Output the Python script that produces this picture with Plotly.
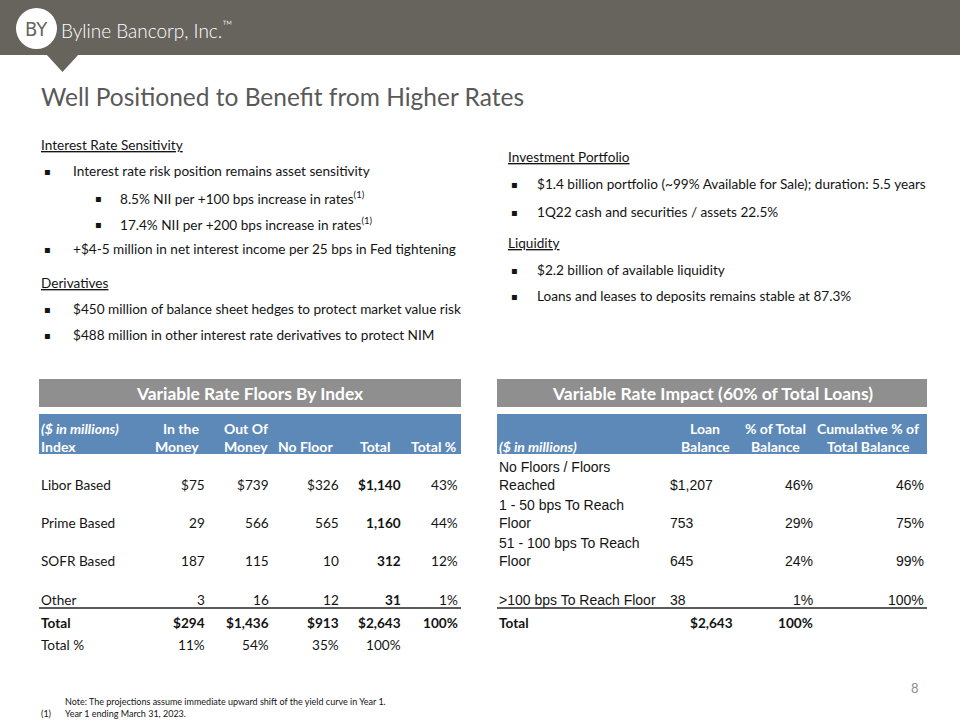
import plotly.graph_objects as go

# ---------------- data ----------------
company = "Byline Bancorp, Inc."
slide_title = "Well Positioned to Benefit from Higher Rates"
page_number = "8"

left_sections = [
    ("Interest Rate Sensitivity", [
        (0, "Interest rate risk position remains asset sensitivity"),
        (1, "8.5% NII per +100 bps increase in rates<sup>(1)</sup>"),
        (1, "17.4% NII per +200 bps increase in rates<sup>(1)</sup>"),
        (0, "+$4-5 million in net interest income per 25 bps in Fed tightening"),
    ]),
    ("Derivatives", [
        (0, "$450 million of balance sheet hedges to protect market value risk"),
        (0, "$488 million in other interest rate derivatives to protect NIM"),
    ]),
]
right_sections = [
    ("Investment Portfolio", [
        (0, "$1.4 billion portfolio (~99% Available for Sale); duration: 5.5 years"),
        (0, "1Q22 cash and securities / assets 22.5%"),
    ]),
    ("Liquidity", [
        (0, "$2.2 billion of available liquidity"),
        (0, "Loans and leases to deposits remains stable at 87.3%"),
    ]),
]

# Table 1: Variable Rate Floors By Index
floors_title = "Variable Rate Floors By Index"
floors_headers = ["In the<br>Money", "Out Of<br>Money", "No Floor", "Total", "Total %"]
floor_index = ["Libor Based", "Prime Based", "SOFR Based", "Other"]
in_the_money = [75, 29, 187, 3]
out_of_money = [739, 566, 115, 16]
no_floor = [326, 565, 10, 12]
floor_total = [1140, 1160, 312, 31]
floor_total_pct = [43, 44, 12, 1]
floor_sum = [294, 1436, 913, 2643]
floor_sum_pct = [11, 54, 35, 100]
floor_sum_total_pct = 100

# Table 2: Variable Rate Impact
impact_title = "Variable Rate Impact (60% of Total Loans)"
impact_headers = ["Loan<br>Balance", "% of Total<br>Balance", "Cumulative % of<br>Total Balance"]
impact_labels = ["No Floors / Floors<br>Reached", "1 - 50 bps To Reach<br>Floor",
                 "51 - 100 bps To Reach<br>Floor", ">100 bps To Reach Floor"]
loan_balance = [1207, 753, 645, 38]
pct_of_total = [46, 29, 24, 1]
cum_pct = [46, 75, 99, 100]
impact_total_balance = 2643
impact_total_pct = 100

footnote_note = "Note: The projections assume immediate upward shift of the yield curve in Year 1."
footnote_1 = "Year 1 ending March 31, 2023."

# ---------------- styling ----------------
CAL = "Lato, 'Open Sans', sans-serif"
ARIAL = "'Liberation Sans', Arial, sans-serif"
TXT = "#141414"
BAND = "#67645e"
GRAYHDR = "#8f8f8f"
BLUE = "#5d89b9"
BODY = 13.6
HDR = 14

fig = go.Figure()
shapes = []
ann = []


def txt(x, y, s, size=BODY, color=TXT, xa="left", family=CAL, ya="middle", weight=None):
    f = dict(size=size, color=color, family=family)
    if weight is not None:
        f["weight"] = weight
    ann.append(dict(x=x, y=y, text=s, xref="x", yref="y", showarrow=False,
                    xanchor=xa, yanchor=ya, font=f))


def rect(x0, y0, x1, y1, color):
    shapes.append(dict(type="rect", xref="x", yref="y", x0=x0, y0=y0, x1=x1, y1=y1,
                       fillcolor=color, line=dict(width=0), layer="below"))


def hline(x0, x1, y, color="#262626", w=1.3):
    shapes.append(dict(type="line", xref="x", yref="y", x0=x0, x1=x1, y0=y, y1=y,
                       line=dict(color=color, width=w)))


# header band + pointer
rect(0, 0, 960, 55, BAND)
shapes.append(dict(type="path", xref="x", yref="y", path="M 46 54 L 79 54 L 62.5 72 Z",
                   fillcolor=BAND, line=dict(width=0)))
shapes.append(dict(type="circle", xref="x", yref="y", x0=16, y0=8, x1=57, y1=49,
                   fillcolor="white", line=dict(width=0)))
txt(36.5, 29, "BY", size=20, color=BAND, xa="center",
    family="'DejaVu Sans Condensed', sans-serif", weight=400)
txt(59, 29, company + "<sup>™</sup>", size=19, color="white", family=CAL, weight=300)

# title
txt(39, 96, slide_title, size=24.5, color="#595959", weight=400)


def section_block(sections, x_head, x_b0, x_t0, x_b1, x_t1, ys):
    i = 0
    for head, items in sections:
        txt(x_head, ys[i], "<u>" + head + "</u>")
        i += 1
        for lvl, s in items:
            xb, xt = (x_b0, x_t0) if lvl == 0 else (x_b1, x_t1)
            txt(xb, ys[i], "▪", size=10, family="'DejaVu Sans', sans-serif")
            txt(xt, ys[i], s)
            i += 1


section_block(left_sections, 39, 42, 71, 93, 118, [145, 171, 198, 224, 249, 283, 309, 335])
section_block(right_sections, 506, 509, 535, 509, 535, [157, 184, 212, 243, 270, 296])

# ---------------- table 1 ----------------
L0, L1 = 39, 461
rect(L0, 379, L1, 407, GRAYHDR)
txt((L0 + L1) / 2, 393, "<b>" + floors_title + "</b>", size=17.4, color="white", xa="center")
rect(L0, 414, L1, 454, BLUE)
txt(39, 428, "<b><i>($ in millions)</i></b>", size=HDR, color="white")
txt(39, 446, "<b>Index</b>", size=HDR, color="white")
hdr_x = [201, 222, 335, 392, 458]
hdr_anchor = ["right", "left", "right", "right", "right"]
for h, hx, ha in zip(floors_headers, hdr_x, hdr_anchor):
    if "<br>" in h:
        a, b = h.split("<br>")
        txt(hx, 428, "<b>" + a + "</b>", size=HDR, color="white", xa=ha)
        txt(hx, 446, "<b>" + b + "</b>", size=HDR, color="white", xa=ha)
    else:
        txt(hx, 446, "<b>" + h + "</b>", size=HDR, color="white", xa=ha)

col_x = [207, 271, 341, 403, 460]
row_y = [485, 523, 561, 600]
for r, name in enumerate(floor_index):
    pre = "$" if r == 0 else ""
    txt(39, row_y[r], name)
    vals = [in_the_money[r], out_of_money[r], no_floor[r]]
    for c, v in enumerate(vals):
        txt(col_x[c], row_y[r], f"{pre}{v:,}", xa="right")
    txt(col_x[3], row_y[r], f"<b>{pre}{floor_total[r]:,}</b>", xa="right")
    txt(col_x[4], row_y[r], f"{floor_total_pct[r]}%", xa="right")
hline(L0, L1, 608)
txt(39, 623, "<b>Total</b>")
for c, v in enumerate(floor_sum):
    txt(col_x[c], 623, f"<b>${v:,}</b>", xa="right")
txt(col_x[4], 623, f"<b>{floor_sum_total_pct}%</b>", xa="right")
txt(39, 645, "Total %")
for c, v in enumerate(floor_sum_pct):
    txt(col_x[c], 645, f"{v}%", xa="right")

# ---------------- table 2 ----------------
R0, R1 = 497, 927
rect(R0, 379, R1, 407, GRAYHDR)
txt((R0 + R1) / 2, 393, "<b>" + impact_title + "</b>", size=17.5, color="white", xa="center")
rect(R0, 414, R1, 454, BLUE)
txt(497, 446, "<b><i>($ in millions)</i></b>", size=HDR, color="white")
for h, hx in zip(impact_headers, [705, 775, 868]):
    a, b = h.split("<br>")
    txt(hx, 428, "<b>" + a + "</b>", size=HDR, color="white", xa="center")
    txt(hx, 446, "<b>" + b + "</b>", size=HDR, color="white", xa="center")

for r, lab in enumerate(impact_labels):
    y = row_y[r]
    if "<br>" in lab:
        a, b = lab.split("<br>")
        txt(497, y - 18, a, size=14, family=ARIAL)
        txt(497, y, b, size=14, family=ARIAL)
    else:
        txt(497, y, lab, size=14, family=ARIAL)
    pre = "$" if r == 0 else ""
    txt(668, y, f"{pre}{loan_balance[r]:,}", size=14, family=ARIAL)
    txt(815, y, f"{pct_of_total[r]}%", size=14, family=ARIAL, xa="right")
    txt(926, y, f"{cum_pct[r]}%", size=14, family=ARIAL, xa="right")
hline(R0, R1, 608)
txt(497, 623, "<b>Total</b>")
txt(735, 623, f"<b>${impact_total_balance:,}</b>", xa="right")
txt(815, 623, f"<b>{impact_total_pct}%</b>", xa="right")

# ---------------- footer ----------------
txt(921, 688, page_number, size=13, color="#8c8c8c", xa="right")
txt(63, 701, footnote_note, size=9)
txt(39, 713, "(1)", size=9)
txt(63, 713, footnote_1, size=9)

fig.update_layout(
    width=960, height=720, margin=dict(l=0, r=0, t=0, b=0),
    paper_bgcolor="white", plot_bgcolor="white",
    xaxis=dict(range=[0, 960], visible=False, fixedrange=True),
    yaxis=dict(range=[720, 0], visible=False, fixedrange=True),
    shapes=shapes, annotations=ann, showlegend=False,
)
fig.write_html(
    "out.html",
    config={"displayModeBar": False, "responsive": False},
    post_script="document.body.style.margin='0';document.body.style.overflow='hidden';",
)
